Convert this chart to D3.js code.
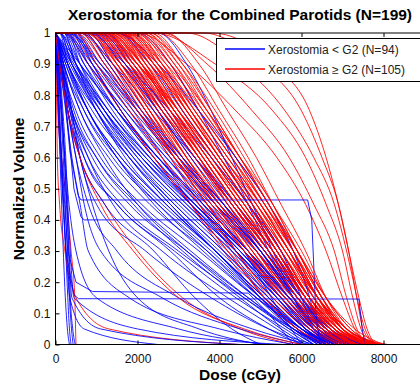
<!DOCTYPE html>
<html><head><meta charset="utf-8">
<script src="https://cdn.jsdelivr.net/npm/d3@7"></script>
<style>body{margin:0;background:#fff}svg{display:block;font-family:Arial,"Liberation Sans",Helvetica,sans-serif}</style>
</head><body><svg id="c" width="420" height="383"></svg>
<script>
// Volume levels at which each curve's dose (cGy) is listed
const volumeLevels = [1, 0.9, 0.75, 0.6, 0.45, 0.3, 0.15, 0.05, 0];

// Xerostomia < G2 : dose at each volume level
const blueCurves = [
  [0, 30, 70, 110, 150, 190, 240, 290, 340],
  [0, 150, 400, 800, 1400, 2600, 4200, 5400, 6000],
  [0, 50, 100, 150, 200, 250, 300, 340, 380],
  [0, 200, 600, 1200, 2000, 3200, 4600, 5700, 6300],
  [0, 60, 130, 190, 240, 290, 340, 390, 430],
  [0, 300, 800, 1500, 2400, 3600, 4900, 5900, 6400],
  [20, 80, 160, 220, 270, 320, 360, 420, 480],
  [100, 400, 1000, 1700, 2700, 3900, 5100, 6000, 6600],
  [0, 40, 90, 140, 190, 260, 350, 700, 2500],
  [0, 250, 700, 1400, 2500, 3800, 5000, 5900, 6500],
  [0, 70, 150, 220, 280, 330, 400, 1100, 4500],
  [200, 500, 1100, 1900, 2900, 4100, 5200, 6000, 6500],
  [0, 90, 180, 250, 300, 360, 450, 2000, 5600],
  [0, 300, 900, 1800, 2900, 4100, 5300, 6100, 6700],
  [0, 60, 140, 230, 330, 500, 1000, 3000, 5200],
  [300, 700, 1400, 2300, 3300, 4400, 5500, 6200, 6800],
  [0, 100, 250, 400, 600, 800, 1800, 4000, 5800],
  [100, 500, 1200, 2100, 3200, 4400, 5500, 6300, 6900],
  [0, 150, 300, 500, 700, 1100, 2600, 4500, 6000],
  [0, 200, 600, 1300, 2300, 3700, 5000, 6000, 6600],
  [0, 200, 400, 600, 1000, 2200, 3800, 5200, 6300],
  [400, 900, 1600, 2500, 3500, 4600, 5600, 6300, 6900],
  [0, 180, 380, 700, 1500, 2800, 4000, 5200, 6000],
  [200, 600, 1300, 2300, 3400, 4600, 5600, 6300, 6800],
  [0, 150, 350, 600, 900, 1300, 2000, 3500, 5000],
  [0, 400, 1100, 2000, 3100, 4300, 5400, 6200, 6900],
  [0, 120, 300, 500, 800, 1500, 3000, 4800, 6200],
  [500, 1000, 1800, 2700, 3700, 4700, 5700, 6400, 7100],
  [0, 100, 300, 600, 1200, 2400, 3400, 4300, 5000],
  [100, 600, 1500, 2500, 3600, 4700, 5700, 6400, 7000],
  [300, 800, 1700, 2700, 3800, 4900, 5800, 6500, 7200],
  [0, 150, 500, 1100, 2100, 3500, 4900, 6000, 6700],
  [600, 1200, 2000, 2900, 3900, 4900, 5800, 6500, 7100],
  [200, 700, 1500, 2400, 3500, 4600, 5700, 6500, 7200],
  [0, 500, 1300, 2300, 3400, 4500, 5500, 6200, 6700],
  [800, 1400, 2200, 3100, 4100, 5000, 5800, 6400, 7000],
  [400, 1000, 1900, 2900, 3900, 5000, 5900, 6600, 7200],
  [0, 300, 1000, 1900, 3000, 4200, 5300, 6100, 6700],
  [100, 400, 1100, 2100, 3300, 4500, 5600, 6400, 7100],
  [1000, 1700, 2500, 3300, 4200, 5100, 5900, 6500, 7100],
  [200, 900, 1800, 2800, 3900, 5000, 5900, 6600, 7300],
  [0, 100, 400, 900, 1800, 3200, 4700, 5800, 6500],
  [500, 1100, 2000, 3000, 4000, 5000, 5900, 6600, 7300],
  [300, 600, 1200, 2000, 3100, 4300, 5400, 6100, 6600],
  [0, 400, 1200, 2200, 3400, 4600, 5700, 6500, 7200],
  [700, 1300, 2100, 3000, 4000, 5000, 5800, 6300, 6800],
  [1200, 1900, 2700, 3500, 4400, 5300, 6100, 6600, 7100],
  [100, 300, 800, 1600, 2700, 3900, 5100, 6000, 6800],
  [0, 600, 1500, 2500, 3700, 4900, 5900, 6700, 7400],
  [400, 800, 1500, 2400, 3400, 4500, 5500, 6100, 6500],
  [1500, 2300, 3100, 3900, 4700, 5400, 6100, 6600, 7000],
  [2500, 3200, 3800, 4300, 4800, 5300, 5800, 6300, 6900],
  [2000, 2800, 3500, 4100, 4700, 5200, 5800, 6400, 7100],
  [0, 200, 700, 1500, 2600, 3900, 5100, 5900, 6400],
  [600, 1400, 2400, 3400, 4400, 5300, 6000, 6600, 7200],
  [200, 500, 1000, 1800, 2800, 4000, 5200, 6000, 6500],
  [900, 1600, 2500, 3400, 4300, 5200, 6000, 6500, 6900],
  [0, 350, 1000, 1800, 2800, 3900, 5000, 5800, 6300],
  [300, 1000, 2000, 3000, 4100, 5100, 6000, 6800, 7400],
  [1500, 2500, 3500, 4400, 5200, 5800, 6200, 6400, 6700],
  [800, 1700, 2800, 3800, 4700, 5500, 6000, 6300, 6600],
  [0, 100, 400, 1000, 2000, 3300, 4700, 5700, 6300],
  [100, 500, 1300, 2200, 3300, 4400, 5400, 6100, 6600],
  [0, 250, 800, 1600, 2700, 3900, 5000, 5800, 6400],
  [500, 900, 1600, 2500, 3600, 4700, 5800, 6600, 7300],
  [200, 800, 1700, 2600, 3600, 4700, 5700, 6300, 6900],
  [0, 450, 1200, 2100, 3200, 4400, 5500, 6300, 7000],
  [300, 1100, 2100, 3100, 4100, 5100, 6000, 6700, 7500],
  [1100, 1800, 2600, 3400, 4300, 5200, 6000, 6600, 7200],
  [0, 300, 800, 1500, 2500, 3700, 4900, 5800, 6500],
  [0, 100, 300, 700, 1500, 2900, 4400, 5600, 6200],
  [0, 150, 450, 1000, 1900, 3100, 4500, 5500, 6100],
  [0, 100, 350, 800, 1600, 3000, 4600, 5800, 6600]
];

// Xerostomia < G2 curves with long flat plateaus: [dose, volume] pairs
const blueSpecial = [
  [[0, 1], [150, 0.9], [350, 0.62], [550, 0.48], [620, 0.464], [6150, 0.464], [6250, 0.4], [6350, 0.1], [6450, 0]],
  [[0, 1], [200, 0.85], [450, 0.5], [620, 0.41], [700, 0.4], [3800, 0.4], [4600, 0.3], [5400, 0.12], [6000, 0]],
  [[0, 1], [80, 0.7], [250, 0.3], [450, 0.16], [560, 0.147], [7400, 0.146], [7480, 0.05], [7550, 0]],
  [[0, 1], [100, 0.7], [300, 0.3], [500, 0.2], [900, 0.17], [4700, 0.165], [5200, 0.1], [5800, 0]]
];

// Xerostomia >= G2 : dose at each volume level
const redCurves = [
  [0, 30, 60, 150, 280, 380, 470, 490, 500],
  [400, 1100, 1900, 2600, 3300, 4100, 5000, 5800, 6500],
  [600, 1300, 2000, 2800, 3500, 4300, 5100, 5900, 6600],
  [0, 15, 30, 45, 100, 230, 500, 1300, 4500],
  [800, 1400, 2200, 2900, 3700, 4400, 5200, 6000, 6700],
  [900, 1500, 2300, 3000, 3800, 4600, 5400, 6100, 6900],
  [0, 150, 300, 600, 1200, 2000, 3100, 4500, 5800],
  [700, 1500, 2300, 3100, 3900, 4700, 5500, 6200, 6800],
  [1000, 1700, 2500, 3200, 4000, 4800, 5600, 6300, 7000],
  [2400, 3900, 5300, 6100, 6600, 7000, 7250, 7450, 7700],
  [1200, 1800, 2500, 3300, 4100, 4900, 5700, 6400, 7100],
  [1100, 1900, 2700, 3500, 4200, 5000, 5800, 6400, 7000],
  [1300, 2000, 2700, 3500, 4300, 5100, 5900, 6500, 7200],
  [3200, 4500, 5600, 6300, 6800, 7100, 7350, 7500, 7800],
  [1400, 2100, 2800, 3600, 4400, 5200, 5900, 6600, 7300],
  [1500, 2200, 2900, 3700, 4500, 5300, 6000, 6600, 7200],
  [1000, 1800, 2700, 3600, 4400, 5200, 6000, 6600, 7100],
  [2000, 3200, 4400, 5400, 6100, 6600, 7000, 7300, 7600],
  [1600, 2300, 3000, 3800, 4600, 5400, 6100, 6700, 7400],
  [1200, 2000, 2900, 3700, 4500, 5300, 6000, 6700, 7500],
  [1700, 2400, 3100, 3900, 4700, 5400, 6100, 6800, 7600],
  [1800, 2500, 3200, 4000, 4800, 5500, 6200, 6800, 7400],
  [1400, 2200, 3100, 3900, 4700, 5500, 6200, 6900, 7700],
  [1900, 2600, 3300, 4100, 4900, 5600, 6300, 6900, 7500],
  [2600, 3700, 4800, 5700, 6300, 6800, 7100, 7350, 7600],
  [2000, 2700, 3400, 4200, 5000, 5700, 6300, 6900, 7800],
  [1600, 2400, 3300, 4100, 4900, 5600, 6300, 7000, 7900],
  [2200, 2900, 3600, 4400, 5100, 5800, 6400, 7000, 7600],
  [500, 1200, 2000, 2800, 3600, 4400, 5300, 6100, 6800],
  [800, 1600, 2500, 3300, 4100, 4900, 5700, 6500, 7300],
  [1100, 1700, 2400, 3200, 4000, 4900, 5800, 6500, 7100],
  [3600, 5000, 6000, 6500, 6900, 7150, 7350, 7550, 7800],
  [1300, 2100, 3000, 3800, 4600, 5400, 6100, 6700, 7400],
  [900, 1600, 2400, 3100, 3900, 4700, 5600, 6400, 7000],
  [1500, 2300, 3200, 4000, 4800, 5500, 6200, 6800, 7600],
  [3800, 5300, 6200, 6600, 6900, 7150, 7400, 7600, 7800],
  [1700, 2600, 3500, 4300, 5100, 5800, 6400, 7000, 7700],
  [300, 900, 1600, 2400, 3300, 4200, 5100, 5900, 6700],
  [1200, 1900, 2600, 3400, 4200, 5000, 5800, 6500, 7200],
  [2100, 2800, 3500, 4300, 5000, 5700, 6400, 7000, 7800],
  [1000, 1600, 2400, 3200, 4100, 5000, 5900, 6600, 7300],
  [1400, 2000, 2800, 3600, 4400, 5300, 6100, 6800, 7500],
  [1800, 2700, 3600, 4400, 5200, 5800, 6400, 6900, 7500],
  [700, 1300, 2100, 2900, 3700, 4600, 5500, 6300, 7000],
  [1600, 2200, 3000, 3800, 4600, 5400, 6200, 6900, 7700],
  [2300, 3000, 3700, 4400, 5100, 5800, 6500, 7100, 8000],
  [1300, 1900, 2700, 3500, 4300, 5200, 6000, 6700, 7600],
  [900, 1700, 2600, 3500, 4300, 5100, 5900, 6500, 7100],
  [2000, 2600, 3300, 4000, 4800, 5600, 6400, 7100, 7900],
  [1100, 1800, 2600, 3400, 4200, 5100, 5900, 6600, 7400],
  [1500, 2400, 3300, 4100, 4900, 5700, 6400, 7000, 7600],
  [600, 1400, 2200, 3000, 3900, 4800, 5700, 6400, 7000],
  [1900, 2500, 3200, 4000, 4800, 5600, 6400, 7100, 8100],
  [1200, 2100, 3000, 3900, 4700, 5500, 6200, 6800, 7400],
  [1700, 2300, 3000, 3800, 4700, 5500, 6300, 7000, 7700],
  [2400, 3100, 3800, 4500, 5200, 5900, 6500, 7000, 7500],
  [1000, 1900, 2800, 3600, 4400, 5200, 6000, 6600, 7200],
  [200, 800, 1600, 2400, 3300, 4200, 5100, 5900, 6600],
  [1400, 2300, 3200, 4000, 4800, 5500, 6200, 6700, 7200],
  [800, 1500, 2300, 3100, 4000, 4900, 5800, 6500, 7200],
  [1300, 2100, 2900, 3700, 4500, 5300, 6100, 6800, 7600],
  [1800, 2400, 3100, 3900, 4700, 5500, 6200, 6800, 7300],
  [1100, 1600, 2300, 3000, 3900, 4800, 5700, 6500, 7300],
  [1600, 2400, 3200, 4000, 4900, 5700, 6400, 7100, 7800],
  [2100, 2900, 3700, 4500, 5200, 5800, 6400, 6900, 7400],
  [500, 1000, 1800, 2600, 3500, 4400, 5300, 6200, 6900],
  [1500, 2100, 2800, 3600, 4400, 5300, 6100, 6800, 7300],
  [1200, 2000, 2900, 3700, 4600, 5400, 6200, 6900, 7700],
  [2500, 3300, 4000, 4700, 5300, 5900, 6500, 7000, 7600],
  [900, 1400, 2100, 2900, 3700, 4600, 5500, 6300, 7000],
  [1700, 2500, 3300, 4100, 5000, 5800, 6500, 7100, 7800],
  [1000, 2000, 3000, 3900, 4700, 5400, 6100, 6600, 7000],
  [2000, 2800, 3500, 4300, 5100, 5900, 6600, 7200, 7900],
  [1300, 1800, 2500, 3200, 4000, 4900, 5800, 6600, 7400],
  [1900, 2800, 3700, 4500, 5300, 5900, 6500, 7000, 7600],
  [700, 1600, 2600, 3500, 4300, 5100, 5900, 6600, 7400],
  [1400, 2100, 2900, 3700, 4500, 5400, 6200, 6900, 7500],
  [2200, 3000, 3800, 4500, 5200, 5900, 6600, 7300, 8000],
  [1100, 2000, 2900, 3800, 4600, 5400, 6100, 6700, 7200],
  [1600, 2100, 2800, 3500, 4300, 5200, 6000, 6700, 7400],
  [600, 1200, 2000, 2900, 3800, 4700, 5600, 6400, 7100],
  [1800, 2600, 3400, 4200, 5000, 5700, 6400, 7000, 7700],
  [1000, 1500, 2200, 2900, 3700, 4600, 5600, 6400, 7300],
  [1500, 2500, 3400, 4200, 5000, 5700, 6300, 6800, 7300],
  [2300, 3100, 3900, 4600, 5300, 6000, 6600, 7200, 7700],
  [1200, 1800, 2600, 3400, 4300, 5200, 6100, 6800, 7600],
  [2700, 3500, 4200, 4900, 5500, 6100, 6600, 7100, 7700],
  [1700, 2200, 2900, 3600, 4400, 5300, 6100, 6800, 7300],
  [900, 1800, 2800, 3700, 4500, 5300, 6100, 6700, 7300],
  [0, 100, 300, 600, 1100, 1900, 3000, 4600, 6000]
];

const xTicks = [0, 2000, 4000, 6000, 8000];
const yTicks = [0, 0.1, 0.2, 0.3, 0.4, 0.5, 0.6, 0.7, 0.8, 0.9, 1];
const titleText = "Xerostomia for the Combined Parotids (N=199)";
const xLabel = "Dose (cGy)";
const yLabel = "Normalized Volume";
const legendLabels = ["Xerostomia < G2 (N=94)", "Xerostomia \u2265 G2 (N=105)"];
const seriesColors = ["#0000ff", "#ff0000"];

const svg = d3.select("#c");
const L = 55.5, R = 424.5, T = 33, B = 344.5;
const x = d3.scaleLinear().domain([0, 9000]).range([L, R]);
const y = d3.scaleLinear().domain([0, 1]).range([B, T]);

function toPoints(doses) {
  const pts = [];
  if (doses[0] > 0) pts.push([0, 1]);
  doses.forEach((d, i) => pts.push([d, volumeLevels[i]]));
  return pts;
}

const line = d3.line().x(d => x(d[0])).y(d => y(d[1])).curve(d3.curveMonotoneX);
const lineLin = d3.line().x(d => x(d[0])).y(d => y(d[1]));

const g = svg.append("g").attr("fill", "none").attr("stroke-width", 1).attr("stroke-opacity", 0.85);
const blueAll = blueCurves.map(c => ({pts: toPoints(c), smooth: true}))
  .concat(blueSpecial.map(p => ({pts: p, smooth: false})));
const redAll = redCurves.map(c => ({pts: toPoints(c), smooth: true}));
const n = Math.max(blueAll.length, redAll.length);
for (let i = 0; i < n; i++) {
  if (i < blueAll.length) g.append("path").attr("stroke", seriesColors[0])
    .attr("d", (blueAll[i].smooth ? line : lineLin)(blueAll[i].pts));
  if (i < redAll.length) g.append("path").attr("stroke", seriesColors[1])
    .attr("d", (redAll[i].smooth ? line : lineLin)(redAll[i].pts));
}

// axes (MATLAB style inward ticks, full box)
const fmt = d => String(+d.toFixed(1));
const axL = svg.append("g").attr("transform", `translate(${L},0)`)
  .call(d3.axisLeft(y).tickValues(yTicks).tickFormat(fmt).tickSize(-4).tickPadding(5));
const axB = svg.append("g").attr("transform", `translate(0,${B})`)
  .call(d3.axisBottom(x).tickValues(xTicks).tickFormat(d3.format("d")).tickSize(-4).tickPadding(10));
const axT = svg.append("g").attr("transform", `translate(0,${T})`)
  .call(d3.axisTop(x).tickValues(xTicks).tickFormat("").tickSize(-4));
[axL, axB, axT].forEach(a => {
  a.select(".domain").remove();
  a.selectAll(".tick line").attr("stroke", "#000");
  a.selectAll("text").attr("fill", "#111").attr("font-size", "12px")
    .attr("font-family", "Arial, 'Liberation Sans', sans-serif");
});
svg.append("rect").attr("x", L).attr("y", T).attr("width", R - L).attr("height", B - T)
  .attr("fill", "none").attr("stroke", "#000").attr("stroke-width", 1);

// titles
svg.append("text").attr("x", (L + R) / 2).attr("y", 20).attr("text-anchor", "middle")
  .attr("font-weight", "bold").attr("font-size", "15.5px").text(titleText);
svg.append("text").attr("x", 240).attr("y", 380).attr("text-anchor", "middle")
  .attr("font-weight", "bold").attr("font-size", "15.5px").text(xLabel);
svg.append("text").attr("transform", "translate(24,189) rotate(-90)").attr("text-anchor", "middle")
  .attr("font-weight", "bold").attr("font-size", "15.5px").text(yLabel);

// legend
const lg = svg.append("g");
lg.append("rect").attr("x", 216.5).attr("y", 38.5).attr("width", 206).attr("height", 43)
  .attr("fill", "#fff").attr("stroke", "#000");
legendLabels.forEach((t, i) => {
  const yy = 49 + i * 20;
  lg.append("path").attr("d", `M225,${yy}H265`).attr("fill", "none")
    .attr("stroke", seriesColors[i]).attr("stroke-width", 1.3);
  lg.append("text").attr("x", 268).attr("y", yy + 4.5).attr("font-size", "12px")
    .attr("fill", "#222").text(t);
});
</script></body></html>
